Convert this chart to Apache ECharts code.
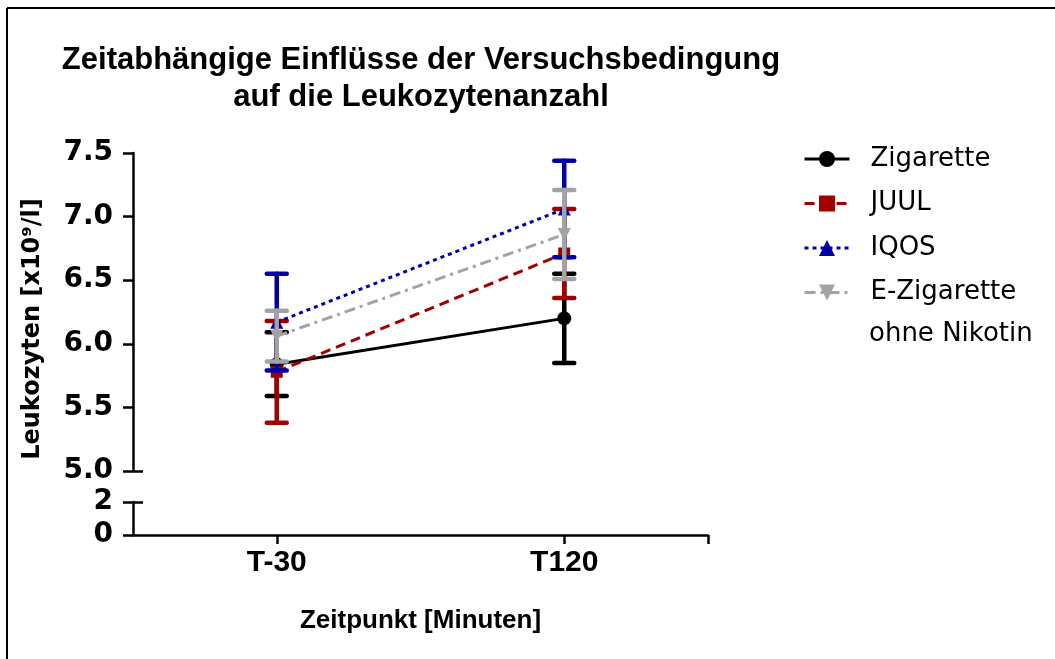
<!DOCTYPE html>
<html>
<head>
<meta charset="utf-8">
<script src="https://cdn.jsdelivr.net/npm/echarts@6/dist/echarts.min.js"></script>
<style>
html,body{margin:0;padding:0;background:#fff;}
#c{width:1055px;height:659px;}
</style>
</head>
<body>
<div id="c"></div>
<script>
// ---- data ----
var timepoints = ['T-30', 'T120'];
var timeX = [1, 3];
var seriesNames = ['Zigarette', 'JUUL', 'IQOS', 'E-Zigarette ohne Nikotin'];
var zigaretteMean = [5.84, 6.20];
var zigaretteErr = [0.25, 0.35];
var juulMean = [5.78, 6.71];
var juulErr = [0.40, 0.35];
var iqosMean = [6.17, 7.06];
var iqosErr = [0.38, 0.38];
var ezigMean = [6.06, 6.86];
var ezigErr = [0.20, 0.35];
var upperRange = [5.0, 7.5];
var lowerRange = [0, 2];

var means = [zigaretteMean, juulMean, iqosMean, ezigMean];
var errs = [zigaretteErr, juulErr, iqosErr, ezigErr];
var colors = ['#000000', '#a00000', '#0000a8', '#a3a3a3'];
var symbols = ['circle', 'rect', 'triangle', 'path://M0,0 L10,0 L5,9 Z'];
var symbolSizes = [14, 12, 13, 13];
var dashTypes = ['solid', [10, 6], [4, 4], [11, 5, 3, 5]];

var chart = echarts.init(document.getElementById('c'));
var LIB = 'Liberation Sans, Arial, sans-serif';
var DJV = 'DejaVu Sans, sans-serif';

var series = [];
for (var s = 0; s < 4; s++) {
  series.push({
    type: 'line',
    name: seriesNames[s],
    xAxisIndex: 0, yAxisIndex: 0,
    data: timeX.map(function (x, i) { return [x, means[s][i]]; }),
    symbol: symbols[s],
    symbolSize: symbolSizes[s],
    showSymbol: true,
    lineStyle: { color: colors[s], width: 3, type: dashTypes[s] },
    itemStyle: { color: colors[s] },
    z: 3 + s * 2,
    animation: false
  });
}
for (var s2 = 0; s2 < 4; s2++) {
  (function (s) {
    series.push({
      type: 'custom',
      name: seriesNames[s],
      xAxisIndex: 0, yAxisIndex: 0,
      data: timeX.map(function (x, i) { return [x, means[s][i] - errs[s][i], means[s][i] + errs[s][i]]; }),
      encode: { x: 0, y: [1, 2] },
      z: 2 + s * 2,
      renderItem: function (params, api) {
        var lo = api.coord([api.value(0), api.value(1)]);
        var hi = api.coord([api.value(0), api.value(2)]);
        var hw = 10;
        var st = { stroke: colors[s], lineWidth: 4.5, lineCap: 'round' };
        return {
          type: 'group',
          children: [
            { type: 'line', shape: { x1: lo[0], y1: lo[1], x2: hi[0], y2: hi[1] }, style: st },
            { type: 'line', shape: { x1: hi[0] - hw, y1: hi[1], x2: hi[0] + hw, y2: hi[1] }, style: st },
            { type: 'line', shape: { x1: lo[0] - hw, y1: lo[1], x2: lo[0] + hw, y2: lo[1] }, style: st }
          ]
        };
      },
      animation: false
    });
  })(s2);
}

var axisLineStyle = { color: '#000', width: 2.5 };
var tickStyle = { width: 2.5, color: '#000' };
var yLabelStyle = { color: '#000', fontSize: 28, fontWeight: 'bold', fontFamily: DJV };
var GRID_W = 575;
var blank = function () { return ''; };

var option = {
  backgroundColor: '#fff',
  animation: false,
  title: {
    text: 'Zeitabhängige Einflüsse der Versuchsbedingung\nauf die Leukozytenanzahl',
    left: 416, top: 37, textAlign: 'center',
    textStyle: { fontSize: 31, fontWeight: 'bold', color: '#000', fontFamily: LIB, lineHeight: 37 }
  },
  legend: {
    data: seriesNames,
    orient: 'vertical',
    left: 803, top: 144, padding: 0,
    itemWidth: 45, itemHeight: 20,
    itemGap: 14.5,
    formatter: function (n) { return n === seriesNames[3] ? 'E-Zigarette' : n; },
    textStyle: { fontSize: 26, color: '#000', fontFamily: DJV, lineHeight: 30, padding: [0, 0, 0, 16] },
    lineStyle: { width: 3 }
  },
  grid: [
    { left: 133, top: 153, width: GRID_W, height: 318 },
    { left: 133, top: 502, width: GRID_W, height: 33 }
  ],
  xAxis: [
    { type: 'value', gridIndex: 0, min: 0, max: 4, show: false },
    {
      type: 'value', gridIndex: 1, min: 0, max: 4, interval: 1,
      axisLine: { lineStyle: axisLineStyle },
      axisTick: { show: true, length: 9, lineStyle: tickStyle, customValues: [1, 3, 4] },
      axisLabel: {
        customValues: timeX,
        formatter: function (v) { var i = timeX.indexOf(v); return i >= 0 ? timepoints[i] : ''; },
        margin: 13, color: '#000', fontSize: 30, fontWeight: 'bold', fontFamily: LIB
      },
      splitLine: { show: false },
      name: 'Zeitpunkt [Minuten]', nameLocation: 'middle', nameGap: 73,
      nameTextStyle: { fontSize: 26, fontWeight: 'bold', color: '#000', fontFamily: LIB }
    }
  ],
  yAxis: [
    {
      type: 'value', gridIndex: 0, min: upperRange[0], max: upperRange[1], interval: 0.5,
      axisLine: { show: true, lineStyle: axisLineStyle },
      axisTick: { show: true, length: 10, lineStyle: tickStyle },
      axisLabel: Object.assign({ margin: 20, formatter: function (v) { return v.toFixed(1); } }, yLabelStyle),
      splitLine: { show: false },
      name: 'Leukozyten [x10⁹/l]', nameLocation: 'middle', nameGap: 88,
      nameTextStyle: { fontSize: 24, fontWeight: 'bold', color: '#000', fontFamily: DJV, padding: [0, 34, 0, 0] }
    },
    {
      type: 'value', gridIndex: 1, min: lowerRange[0], max: lowerRange[1], interval: 2,
      axisLine: { show: true, lineStyle: axisLineStyle },
      axisTick: { show: true, length: 10, lineStyle: tickStyle },
      axisLabel: Object.assign({ margin: 20 }, yLabelStyle),
      splitLine: { show: false }
    },
    {
      type: 'value', gridIndex: 0, position: 'right', offset: -GRID_W, min: upperRange[0], max: upperRange[1], interval: 0.5,
      axisLine: { show: true, lineStyle: { color: '#000', width: 0.01, opacity: 0 } },
      axisTick: { show: true, length: 10, lineStyle: tickStyle, customValues: [upperRange[0]] },
      axisLabel: { show: true, customValues: [upperRange[0]], formatter: blank },
      splitLine: { show: false }
    },
    {
      type: 'value', gridIndex: 1, position: 'right', offset: -GRID_W, min: lowerRange[0], max: lowerRange[1], interval: 2,
      axisLine: { show: true, lineStyle: { color: '#000', width: 0.01, opacity: 0 } },
      axisTick: { show: true, length: 10, lineStyle: tickStyle, customValues: [lowerRange[1]] },
      axisLabel: { show: true, customValues: [lowerRange[1]], formatter: blank },
      splitLine: { show: false }
    }
  ],
  graphic: [
    { type: 'line', shape: { x1: 7, y1: 8, x2: 1055, y2: 8 }, style: { stroke: '#000', lineWidth: 2 } },
    { type: 'line', shape: { x1: 7, y1: 8, x2: 7, y2: 659 }, style: { stroke: '#000', lineWidth: 2 } },
    { type: 'text', left: 869, top: 321, style: { text: 'ohne Nikotin', fontSize: 26, fontFamily: DJV, fill: '#000' } }
  ],
  series: series
};
chart.setOption(option);
</script>
</body>
</html>
